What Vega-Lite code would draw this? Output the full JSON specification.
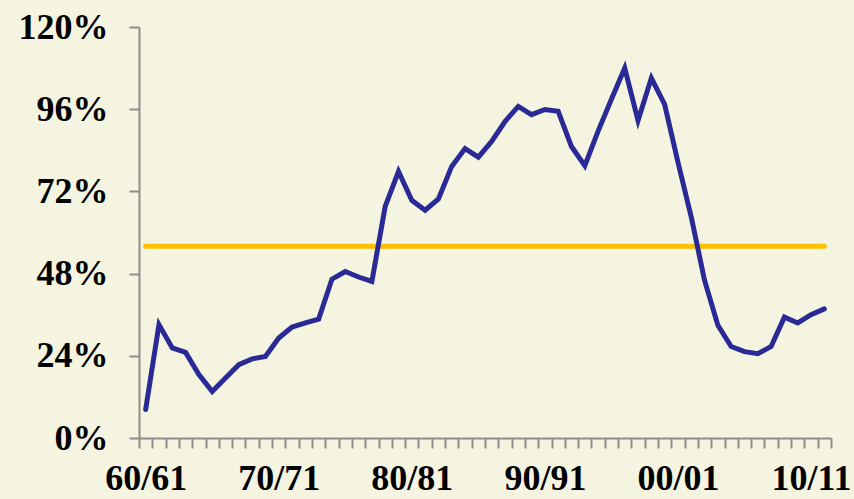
{
  "$schema": "https://vega.github.io/schema/vega-lite/v6.json",
  "width": 692,
  "height": 411,
  "autosize": {"type": "none"},
  "padding": {"left": 139, "top": 27, "right": 23, "bottom": 61},
  "background": "#F5F4E1",
  "config": {"view": {"stroke": null}},
  "data": {"values": [
    {"year": 1960, "share": 8.3},
    {"year": 1961, "share": 33.1},
    {"year": 1962, "share": 26.3},
    {"year": 1963, "share": 25.0},
    {"year": 1964, "share": 18.5},
    {"year": 1965, "share": 13.6},
    {"year": 1966, "share": 17.5},
    {"year": 1967, "share": 21.4},
    {"year": 1968, "share": 23.1},
    {"year": 1969, "share": 23.8},
    {"year": 1970, "share": 29.2},
    {"year": 1971, "share": 32.4},
    {"year": 1972, "share": 33.6},
    {"year": 1973, "share": 34.7},
    {"year": 1974, "share": 46.4},
    {"year": 1975, "share": 48.6},
    {"year": 1976, "share": 47.0},
    {"year": 1977, "share": 45.7},
    {"year": 1978, "share": 67.6},
    {"year": 1979, "share": 77.8},
    {"year": 1980, "share": 69.4},
    {"year": 1981, "share": 66.5},
    {"year": 1982, "share": 69.8},
    {"year": 1983, "share": 79.3},
    {"year": 1984, "share": 84.5},
    {"year": 1985, "share": 82.0},
    {"year": 1986, "share": 86.6},
    {"year": 1987, "share": 92.4},
    {"year": 1988, "share": 96.8},
    {"year": 1989, "share": 94.4},
    {"year": 1990, "share": 95.9},
    {"year": 1991, "share": 95.4},
    {"year": 1992, "share": 85.1},
    {"year": 1993, "share": 79.5},
    {"year": 1994, "share": 89.6},
    {"year": 1995, "share": 98.9},
    {"year": 1996, "share": 108.0},
    {"year": 1997, "share": 92.7},
    {"year": 1998, "share": 105.1},
    {"year": 1999, "share": 97.4},
    {"year": 2000, "share": 80.5},
    {"year": 2001, "share": 64.5},
    {"year": 2002, "share": 46.0},
    {"year": 2003, "share": 32.9},
    {"year": 2004, "share": 26.7},
    {"year": 2005, "share": 25.2},
    {"year": 2006, "share": 24.6},
    {"year": 2007, "share": 26.7},
    {"year": 2008, "share": 35.3},
    {"year": 2009, "share": 33.6},
    {"year": 2010, "share": 36.0},
    {"year": 2011, "share": 37.7}
  ]},
  "layer": [
    {
      "mark": {"type": "rule", "color": "#FFC000", "strokeWidth": 5, "strokeCap": "round"},
      "encoding": {
        "x": {"aggregate": "min", "field": "year", "type": "quantitative"},
        "x2": {"aggregate": "max", "field": "year"},
        "y": {"aggregate": "mean", "field": "share", "type": "quantitative"}
      }
    },
    {
      "mark": {"type": "line", "color": "#2A2A96", "strokeWidth": 5, "strokeCap": "round", "strokeJoin": "miter"},
      "encoding": {
        "x": {
          "field": "year",
          "type": "quantitative",
          "scale": {"domain": [1959.5, 2011.5], "nice": false, "zero": false},
          "axis": {
            "title": null,
            "grid": false,
            "tickCount": 500,
            "values": [1959.5, 1960, 1960.5, 1961.5, 1962.5, 1963.5, 1964.5, 1965.5, 1966.5, 1967.5, 1968.5, 1969.5, 1970, 1970.5, 1971.5, 1972.5, 1973.5, 1974.5, 1975.5, 1976.5, 1977.5, 1978.5, 1979.5, 1980, 1980.5, 1981.5, 1982.5, 1983.5, 1984.5, 1985.5, 1986.5, 1987.5, 1988.5, 1989.5, 1990, 1990.5, 1991.5, 1992.5, 1993.5, 1994.5, 1995.5, 1996.5, 1997.5, 1998.5, 1999.5, 2000, 2000.5, 2001.5, 2002.5, 2003.5, 2004.5, 2005.5, 2006.5, 2007.5, 2008.5, 2009.5, 2010, 2010.5, 2011.5],
            "labelExpr": "datum.value % 1 == 0 ? format(datum.value % 100, '02d') + '/' + format((datum.value + 1) % 100, '02d') : ''",
            "tickOpacity": {"condition": {"test": "datum.value % 1 == 0", "value": 0}, "value": 1},
            "labelOverlap": false,
            "labelBound": false,
            "labelFlush": false,
            "labelFont": "Liberation Serif",
            "labelFontWeight": "bold",
            "labelFontSize": 36,
            "labelColor": "#000000",
            "labelPadding": 13,
            "tickSize": 10,
            "tickWidth": 2,
            "tickColor": "#8C8C8C",
            "domainColor": "#8C8C8C",
            "domainWidth": 2
          }
        },
        "y": {
          "field": "share",
          "type": "quantitative",
          "scale": {"domain": [0, 120], "nice": false},
          "axis": {
            "title": null,
            "grid": false,
            "values": [0, 24, 48, 72, 96, 120],
            "labelExpr": "datum.value + '%'",
            "labelFont": "Liberation Serif",
            "labelFontWeight": "bold",
            "labelFontSize": 36,
            "labelColor": "#000000",
            "labelPadding": 21,
            "tickSize": 10,
            "tickWidth": 2,
            "tickColor": "#8C8C8C",
            "domainColor": "#8C8C8C",
            "domainWidth": 2
          }
        }
      }
    }
  ]
}
